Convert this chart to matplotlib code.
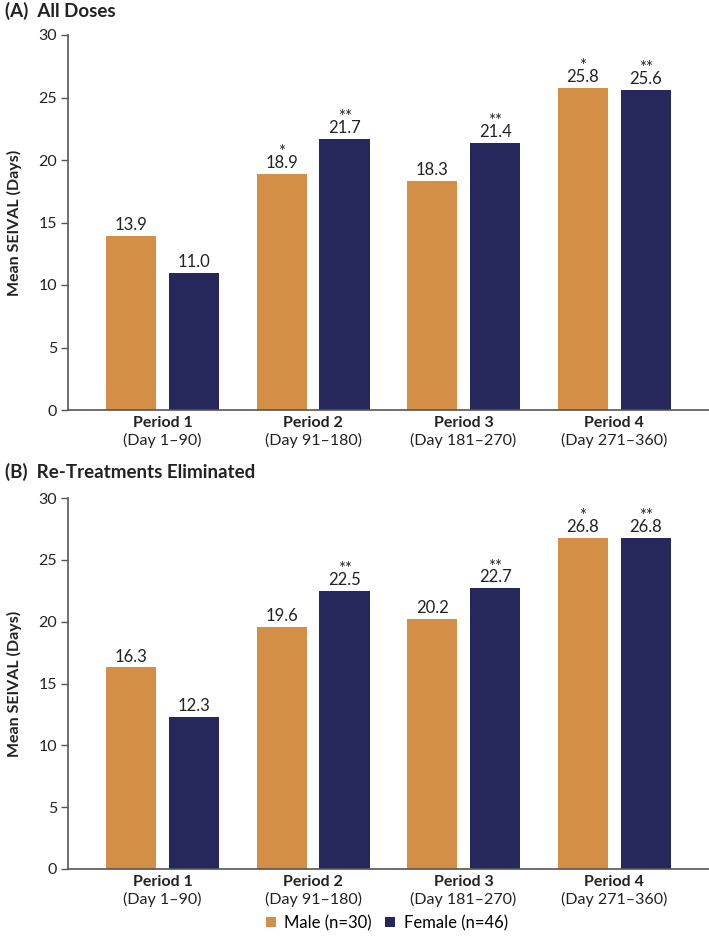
import matplotlib
matplotlib.use("Agg")
import matplotlib.pyplot as plt
import numpy as np

plt.rcParams['font.family'] = ['Lato', 'DejaVu Sans']

periods = ["Period 1", "Period 2", "Period 3", "Period 4"]
days = ["(Day 1\u201390)", "(Day 91\u2013180)", "(Day 181\u2013270)", "(Day 271\u2013360)"]

male_a = [13.9, 18.9, 18.3, 25.8]
female_a = [11.0, 21.7, 21.4, 25.6]
male_a_sig = ["", "*", "", "*"]
female_a_sig = ["", "**", "**", "**"]

male_b = [16.3, 19.6, 20.2, 26.8]
female_b = [12.3, 22.5, 22.7, 26.8]
male_b_sig = ["", "", "", "*"]
female_b_sig = ["", "**", "**", "**"]

titles = ["(A)  All Doses", "(B)  Re-Treatments Eliminated"]
legend_labels = ["Male (n=30)", "Female (n=46)"]
yticks = [0, 5, 10, 15, 20, 25, 30]

c_male = "#D48F47"
c_female = "#26285C"
axis_c = "#555555"
txt_c = "#222222"

W, H = 709, 936
fig = plt.figure(figsize=(W / 100, H / 100), dpi=100)

def add_ax(top_px, bot_px):
    return fig.add_axes([68 / W, 1 - bot_px / H, (709 - 68) / W, (bot_px - top_px) / H])

panels = [
    (add_ax(35, 410), male_a, female_a, male_a_sig, female_a_sig, titles[0], 11),
    (add_ax(498, 869), male_b, female_b, male_b_sig, female_b_sig, titles[1], 472),
]

x = np.arange(len(periods))
off = 0.209
bw = 0.333
for ax, m, f, ms, fs, title, ty in panels:
    bm = ax.bar(x - off, m, bw, color=c_male, label=legend_labels[0], zorder=2)
    bf = ax.bar(x + off, f, bw, color=c_female, label=legend_labels[1], zorder=2)
    for bars, vals, sigs in ((bm, m, ms), (bf, f, fs)):
        for b, v, s in zip(bars, vals, sigs):
            cx = b.get_x() + b.get_width() / 2
            label = f"{s}\n{v:.1f}" if s else f"{v:.1f}"
            ax.annotate(label, (cx, v), xytext=(0, 2.0), textcoords="offset points",
                        ha="center", va="bottom", fontsize=12, color=txt_c,
                        multialignment="center", linespacing=0.6)
    ax.set_xlim(-0.628, 3.63)
    ax.set_ylim(0, 30)
    ax.set_yticks(yticks)
    ax.set_yticklabels([str(t) for t in yticks], fontsize=11.5, color=txt_c)
    ax.set_xticks(x)
    ax.set_xticklabels([])
    ax.tick_params(axis="x", length=0)
    ax.tick_params(axis="y", direction="out", length=5, width=1, color=axis_c, pad=3)
    for sp in ("top", "right"):
        ax.spines[sp].set_visible(False)
    for sp in ("left", "bottom"):
        ax.spines[sp].set_color(axis_c)
        ax.spines[sp].set_linewidth(1.2)
    for i in range(len(periods)):
        ax.annotate(periods[i], (x[i], 0), xytext=(0, -9.5), textcoords="offset points",
                    ha="center", va="center", fontsize=11.5, fontweight="bold", color=txt_c)
        ax.annotate(days[i], (x[i], 0), xytext=(0, -22), textcoords="offset points",
                    ha="center", va="center", fontsize=11.5, color=txt_c)
    ax.set_ylabel("Mean SEIVAL (Days)", fontsize=11.5, fontweight="bold", color=txt_c)
    ax.yaxis.set_label_coords(-46 / (709 - 68), 0.5)
    fig.text(5 / W, 1 - ty / H, title, fontsize=13.5, fontweight="bold", va="center", ha="left", color=txt_c)

ax0 = panels[1][0]
h, l = ax0.get_legend_handles_labels()
fig.legend(h, l, loc="center", bbox_to_anchor=(387 / W, 1 - 923 / H), ncol=2, frameon=False,
           fontsize=12, handlelength=0.6, handleheight=0.6, handletextpad=0.5, columnspacing=0.8,
           borderpad=0)

fig.savefig("out.png", dpi=100)
